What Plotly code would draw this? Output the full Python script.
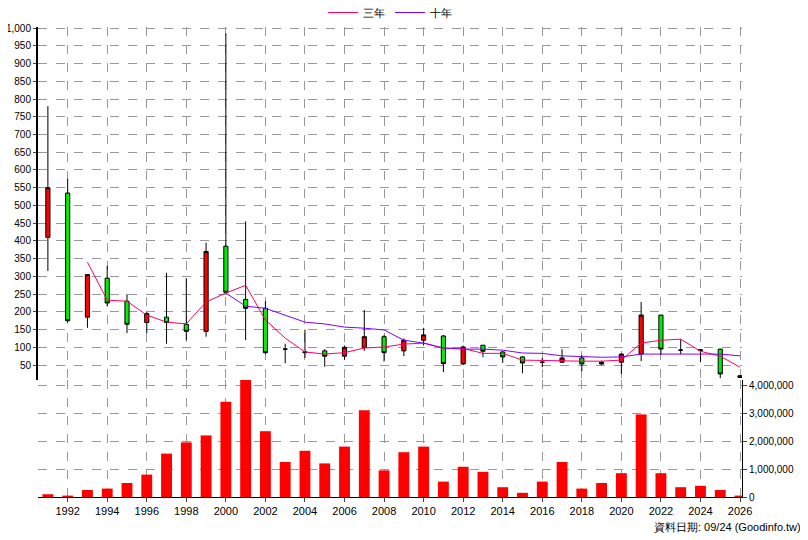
import plotly.graph_objects as go

years = list(range(1991, 2027))
opens  = [410,535,185,295,230,170,185,165,145,385,235,210,95,85,90,75,100,130,90,120,132,53,106,87,73,58,58,70,53,58,81,191,92,91,95,20]
closes = [550,175,305,225,165,195,170,145,370,255,210,85,95,87,75,100,130,85,120,135,54,101,89,73,56,58,70,53,58,81,191,95,92,93,25,15]
highs  = [780,575,305,330,250,200,310,295,395,985,455,230,110,150,95,105,205,135,125,155,135,105,106,89,75,70,95,78,62,83,228,191,123,95,96,21]
lows   = [315,170,155,215,140,140,110,120,130,255,120,80,55,70,45,65,90,60,75,105,30,50,72,56,27,44,56,33,50,25,61,78,81,58,13,14]
ma3_years = list(range(1993, 2027))
ma3 = [340,233,230,191,171,166,228,253,275,177,126,87,81,85,98,101,109,112,98,97,83,83,64,62,62,61,61,64,112,120,123,89,75,44]
ma10_years = list(range(2000, 2027))
ma10 = [253,216,210,191,171,166,157,154,149,120,112,98,95,95,92,84,83,76,73,72,73,81,81,81,83,81,76]
volume = [100000,50000,250000,300000,500000,800000,1550000,1950000,2200000,3400000,4200000,2350000,1250000,1650000,1200000,1800000,3100000,950000,1600000,1800000,550000,1080000,900000,350000,150000,550000,1250000,300000,500000,850000,2950000,850000,350000,400000,250000,50000]

price_ticks = list(range(50, 1001, 50))
vol_ticks = [0, 1000000, 2000000, 3000000, 4000000]
x_ticks = list(range(1992, 2027, 2))

fig = go.Figure()
fig.add_trace(go.Candlestick(x=years, open=opens, high=highs, low=lows, close=closes,
    increasing=dict(fillcolor="#FF0000", line=dict(color="black", width=1)),
    decreasing=dict(fillcolor="#00EE00", line=dict(color="black", width=1)),
    whiskerwidth=0, showlegend=False, xaxis="x", yaxis="y"))
fig.add_trace(go.Scatter(x=ma3_years, y=ma3, mode="lines", name="三年",
    line=dict(color="#FF0066", width=1), xaxis="x", yaxis="y"))
fig.add_trace(go.Scatter(x=ma10_years, y=ma10, mode="lines", name="十年",
    line=dict(color="#7F00FF", width=1), xaxis="x", yaxis="y"))
fig.add_trace(go.Bar(x=years, y=volume, marker=dict(color="#FF0000", line=dict(width=0)),
    width=0.55, showlegend=False, xaxis="x", yaxis="y2"))

grid = dict(showgrid=True, gridcolor="#999999", griddash="dash", gridwidth=1, automargin=False)
fig.update_layout(
    width=808, height=540, paper_bgcolor="white", plot_bgcolor="white",
    margin=dict(l=30, r=74, t=19, b=51, autoexpand=False),
    font=dict(family="Liberation Sans", size=10, color="black"),
    boxgap=0.7,
    showlegend=True,
    legend=dict(orientation="h", x=0.5, xanchor="center", y=1.0, yanchor="bottom",
                font=dict(size=11), bgcolor="rgba(0,0,0,0)"),
    xaxis=dict(range=[1990.5, 2026.1], tickvals=x_ticks, ticktext=[str(t) for t in x_ticks],
               rangeslider=dict(visible=False), anchor="y2", showline=True, linecolor="black",
               ticks="outside", ticklen=4, tickfont=dict(size=11), **grid),
    yaxis=dict(domain=[0.249, 1], range=[8, 1003], tickvals=price_ticks,
               ticktext=[f"{v:,}" for v in price_ticks], showline=True, linecolor="black",
               linewidth=2, ticks="outside", ticklen=3, **grid),
    yaxis2=dict(domain=[0, 0.249], range=[0, 4180000], side="right", tickvals=vol_ticks,
                ticktext=[f"{v:,}" for v in vol_ticks], showline=True, linecolor="black",
                ticks="outside", ticklen=4, **grid),
    annotations=[dict(text="資料日期: 09/24 (Goodinfo.tw)", xref="paper", yref="paper",
                      x=1.087, y=-0.064, xanchor="right", yanchor="middle", showarrow=False,
                      font=dict(size=11))],
)
fig.write_html("out.html")
